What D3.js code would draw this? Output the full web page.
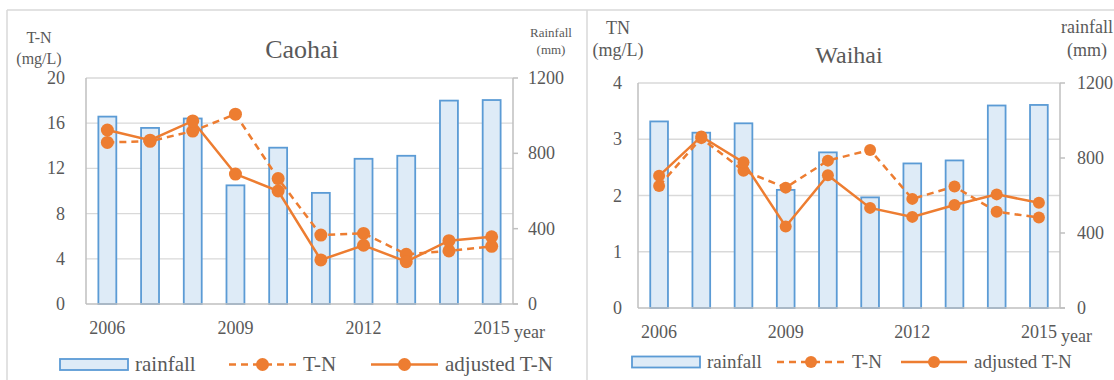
<!DOCTYPE html>
<html>
<head>
<meta charset="utf-8">
<script src="https://cdn.jsdelivr.net/npm/d3@7"></script>
<style>
  body { margin: 0; background: #fff; }
</style>
</head>
<body>
<div id="chart"></div>
<script>
// data
const years = [2006, 2007, 2008, 2009, 2010, 2011, 2012, 2013, 2014, 2015];
const yearLabels = [2006, 2009, 2012, 2015];
const rainfall = [995, 935, 985, 630, 830, 590, 771, 787, 1080, 1083];
const caohaiTN = [14.3, 14.4, 15.3, 16.8, 11.1, 6.1, 6.25, 4.4, 4.7, 5.1];
const caohaiAdjTN = [15.4, 14.5, 16.2, 11.5, 10.0, 3.9, 5.2, 3.75, 5.6, 5.95];
const waihaiTN = [2.17, 3.02, 2.44, 2.14, 2.62, 2.81, 1.94, 2.16, 1.71, 1.61];
const waihaiAdjTN = [2.35, 3.05, 2.59, 1.45, 2.36, 1.78, 1.62, 1.83, 2.02, 1.87];
const caohaiTicks = [0, 4, 8, 12, 16, 20];
const waihaiTicks = [0, 1, 2, 3, 4];
const rainTicks = [0, 400, 800, 1200];

const W = 1114, H = 380;
const orange = '#ed7d31', barFill = '#deebf7', barStroke = '#5b9bd5';
const serif = "'Liberation Serif', 'Times New Roman', 'DejaVu Serif', serif";

let svg = d3.select('#chart').append('svg')
  .attr('width', W).attr('height', H)
  .attr('font-family', serif)
  .style('font-family', serif);

// outer frames
svg.append('g').attr('stroke', '#d9d9d9').attr('stroke-width', 1.5)
  .selectAll('line')
  .data([[7, 10, 1114, 10], [7, 10, 7, 380], [587, 10, 587, 380]])
  .enter().append('line')
  .attr('x1', d => d[0]).attr('y1', d => d[1])
  .attr('x2', d => d[2]).attr('y2', d => d[3]);

function label(g, x, y, size, txt, anchor) {
  return g.append('text').attr('x', x).attr('y', y)
    .attr('text-anchor', anchor || 'start')
    .attr('fill', '#595959')
    .style('font-family', serif)
    .style('font-size', size + 'px')
    .text(txt);
}

function drawPanel(p) {
  let g = svg.append('g');
  let x = d3.scaleBand().domain(years).range([p.left, p.right]).paddingInner(0.58).paddingOuter(0.29);
  let y = d3.scaleLinear().domain([0, p.ticks[p.ticks.length - 1]]).range([p.bottom, p.top]);
  let yr = d3.scaleLinear().domain([0, 1200]).range([p.bottom, p.top]);
  let cx = d => x(d) + x.bandwidth() / 2;

  // gridlines
  g.append('g').selectAll('line').data(p.ticks.slice(1)).enter().append('line')
    .attr('x1', p.left).attr('x2', p.right)
    .attr('y1', d => y(d)).attr('y2', d => y(d))
    .attr('stroke', '#d9d9d9').attr('stroke-width', 1.3);

  // bars
  g.append('g').selectAll('rect').data(rainfall).enter().append('rect')
    .attr('x', (d, i) => x(years[i]))
    .attr('y', d => yr(d))
    .attr('width', x.bandwidth())
    .attr('height', d => p.bottom - yr(d))
    .attr('fill', barFill).attr('stroke', barStroke).attr('stroke-width', 1.8);

  // axis lines
  g.append('line').attr('x1', p.left).attr('x2', p.left).attr('y1', p.top).attr('y2', p.bottom)
    .attr('stroke', '#bfbfbf').attr('stroke-width', 1.5);
  g.append('line').attr('x1', p.left).attr('x2', p.right + 5).attr('y1', p.bottom).attr('y2', p.bottom)
    .attr('stroke', '#bfbfbf').attr('stroke-width', 1.5);
  g.append('line').attr('x1', p.right).attr('x2', p.right).attr('y1', p.top).attr('y2', p.bottom)
    .attr('stroke', '#bfbfbf').attr('stroke-width', 1.5);
  g.append('g').selectAll('line').data(rainTicks).enter().append('line')
    .attr('x1', p.right).attr('x2', p.right + 5)
    .attr('y1', d => yr(d)).attr('y2', d => yr(d))
    .attr('stroke', '#bfbfbf').attr('stroke-width', 1.5);

  // tick labels
  p.ticks.forEach(d => label(g, p.left - p.lgap, y(d) + 6, 18, d, 'end'));
  rainTicks.forEach(d => label(g, p.right + p.rgap, yr(d) + 6, 18, d));
  yearLabels.forEach(d => label(g, cx(d), p.xlabY, 18, d, 'middle'));
  label(g, p.right + 1, p.xlabY + 4, 18, 'year');

  // titles
  label(g, p.titleX, p.titleY, p.titleSize, p.title, 'middle');
  p.ltitle.forEach((t, i) => label(g, p.ltitleX, p.ltitleY[i], p.ltitleSize, t, 'middle'));
  p.rtitle.forEach((t, i) => label(g, p.rtitleX, p.rtitleY[i], p.rtitleSize, t, 'middle'));

  // lines
  let line = d3.line().x((d, i) => cx(years[i])).y(d => y(d));
  [[p.tn, '7,5'], [p.adj, null]].forEach(s => {
    g.append('path').datum(s[0]).attr('d', line)
      .attr('fill', 'none').attr('stroke', orange).attr('stroke-width', 2.5)
      .attr('stroke-dasharray', s[1]);
    g.append('g').selectAll('circle').data(s[0]).enter().append('circle')
      .attr('cx', (d, i) => cx(years[i])).attr('cy', d => y(d))
      .attr('r', p.mr).attr('fill', orange);
  });

  // legend
  let L = p.legend, ly = L.y;
  g.append('rect').attr('x', L.rect[0]).attr('y', ly - 5.5).attr('width', L.rect[1] - L.rect[0]).attr('height', 11)
    .attr('fill', barFill).attr('stroke', barStroke).attr('stroke-width', 1.8);
  label(g, L.rect[1] + 7, ly + L.size * 0.33, L.size, 'rainfall');
  [[L.tn, '7,5', 'T-N'], [L.adj, null, 'adjusted T-N']].forEach(s => {
    g.append('line').attr('x1', s[0][0]).attr('x2', s[0][1]).attr('y1', ly).attr('y2', ly)
      .attr('stroke', orange).attr('stroke-width', 2.5).attr('stroke-dasharray', s[1]);
    g.append('circle').attr('cx', (s[0][0] + s[0][1]) / 2).attr('cy', ly).attr('r', p.mr).attr('fill', orange);
    label(g, s[0][1] + 7, ly + L.size * 0.33, L.size, s[2]);
  });
}

drawPanel({
  left: 86, right: 513, top: 78, bottom: 304,
  ticks: caohaiTicks, tn: caohaiTN, adj: caohaiAdjTN,
  lgap: 21, rgap: 15, xlabY: 334, mr: 6.5,
  title: 'Caohai', titleX: 302, titleY: 58, titleSize: 26,
  ltitle: ['T-N', '(mg/L)'], ltitleX: 39, ltitleY: [43, 64], ltitleSize: 16,
  rtitle: ['Rainfall', '(mm)'], rtitleX: 551, rtitleY: [37, 54], rtitleSize: 13,
  legend: { y: 364.5, size: 21, rect: [60, 128], tn: [229, 296], adj: [371, 438] }
});

drawPanel({
  left: 638, right: 1060, top: 83, bottom: 308,
  ticks: waihaiTicks, tn: waihaiTN, adj: waihaiAdjTN,
  lgap: 16, rgap: 17, xlabY: 338, mr: 6,
  title: 'Waihai', titleX: 849, titleY: 63, titleSize: 24,
  ltitle: ['TN', '(mg/L)'], ltitleX: 618, ltitleY: [34, 56], ltitleSize: 18,
  rtitle: ['rainfall', '(mm)'], rtitleX: 1087, rtitleY: [33, 56], rtitleSize: 18,
  legend: { y: 362, size: 19, rect: [632, 700], tn: [777, 845], adj: [901, 967] }
});
</script>
</body>
</html>
